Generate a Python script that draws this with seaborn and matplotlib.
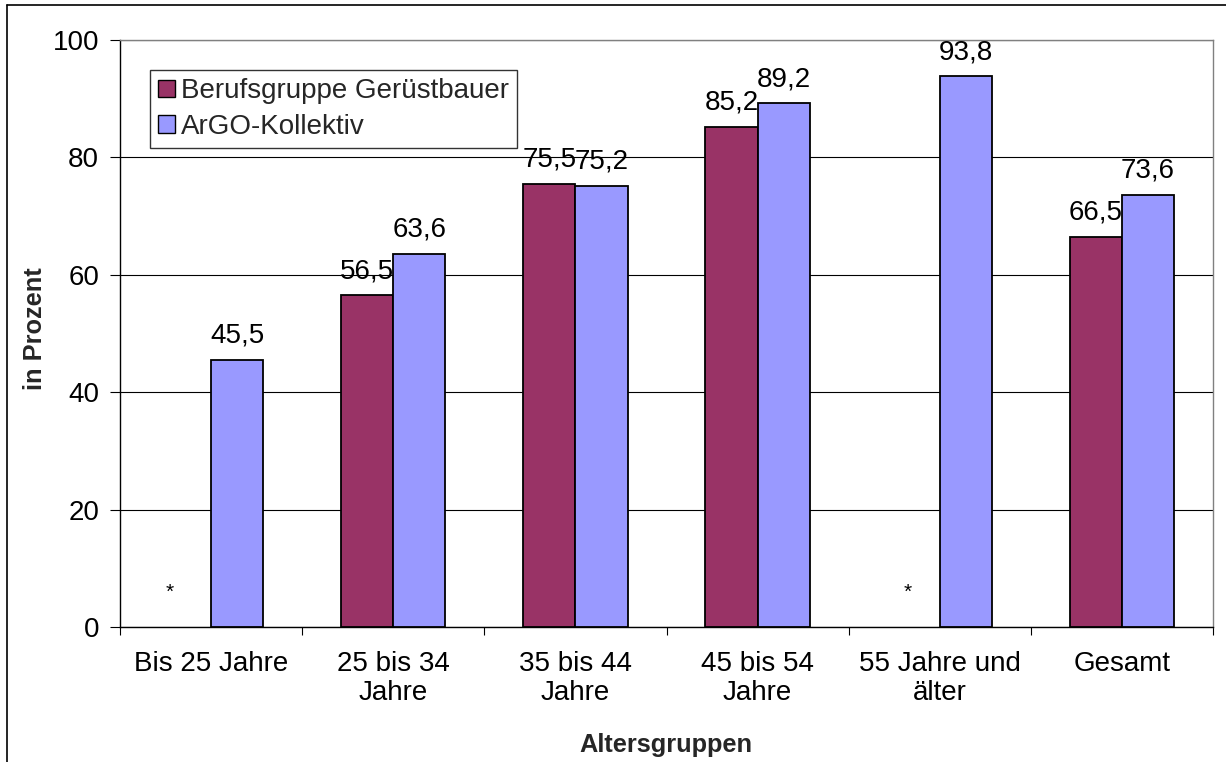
import numpy as np
import pandas as pd
import matplotlib
matplotlib.use("Agg")
import matplotlib.pyplot as plt
from matplotlib.lines import Line2D
from matplotlib.patches import Patch
import seaborn as sns

# Data
categories = ["Bis 25 Jahre", "25 bis 34\nJahre", "35 bis 44\nJahre",
              "45 bis 54\nJahre", "55 Jahre und\nälter", "Gesamt"]
series = ["Berufsgruppe Gerüstbauer", "ArGO-Kollektiv"]
geruestbauer = [np.nan, 56.5, 75.5, 85.2, np.nan, 66.5]
argo = [45.5, 63.6, 75.2, 89.2, 93.8, 73.6]
yticks = [0, 20, 40, 60, 80, 100]
colors = ["#993366", "#9999FF"]

sns.set_theme(style="white")
plt.rcParams["font.family"] = ["Liberation Sans", "DejaVu Sans"]

FS = 20  # regular text size
FSB = 18.3  # bold axis titles

df = pd.DataFrame({
    "Altersgruppe": categories * 2,
    "Serie": [series[0]] * len(categories) + [series[1]] * len(categories),
    "Wert": geruestbauer + argo,
}).dropna()

W, H = 1226, 762
fig = plt.figure(figsize=(W / 100, H / 100), dpi=100)
fig.patch.set_facecolor("white")
ax = fig.add_axes([120 / W, 1 - 627 / H, (1213 - 120) / W, (627 - 40) / H])

sns.barplot(data=df, x="Altersgruppe", y="Wert", hue="Serie",
            order=categories, hue_order=series, palette=colors,
            width=0.572, gap=0, saturation=1, errorbar=None,
            edgecolor="black", linewidth=1.3, legend=False, ax=ax, zorder=3)

ax.set_xlim(-0.5, len(categories) - 0.5)
ax.set_ylim(0, 100)
ax.set_yticks(yticks)
ax.set_yticklabels([str(v) for v in yticks])
ax.yaxis.grid(True, color="black", linewidth=0.8, zorder=0)
ax.set_axisbelow(True)

# Value labels with decimal comma
for cont in ax.containers:
    ax.bar_label(cont, fmt=lambda v: f"{v:.1f}".replace(".", ","),
                 padding=8, fontsize=FS, color="black")

# Missing values marked with an asterisk
for xpos in (-0.225, 4 - 0.176):
    ax.text(xpos, 5.0, "*", ha="center", va="baseline", fontsize=15, color="black")

# Axes frame
for side in ("left", "bottom"):
    ax.spines[side].set_color("black")
    ax.spines[side].set_linewidth(1.0)
for side in ("right", "top"):
    ax.spines[side].set_color("#808080")
    ax.spines[side].set_linewidth(1.0)

ax.tick_params(axis="y", direction="out", length=7, width=0.8, color="black",
               pad=8, labelsize=FS, labelcolor="black", left=True)
ax.tick_params(axis="x", which="major", length=0, pad=17, labelsize=FS,
               labelcolor="black")
ax.set_xticks(np.arange(-0.5, len(categories)), minor=True)
ax.tick_params(axis="x", which="minor", direction="out", length=6, width=0.8,
               color="black", bottom=True)
for lab in ax.get_xticklabels():
    lab.set_linespacing(1.15)

ax.set_xlabel("")
ax.set_ylabel("")
fig.text(35 / W, 1 - 329 / H, "in Prozent", rotation=90, ha="center",
         va="center", fontsize=FSB, fontweight="bold")
fig.text(666 / W, 1 - 745 / H, "Altersgruppen", ha="center", va="center",
         fontsize=FSB, fontweight="bold")

# Legend
handles = [Patch(facecolor=c, edgecolor="black", linewidth=1.0) for c in colors]
leg = ax.legend(handles, series, loc="upper left",
                bbox_to_anchor=((150 - 120) / 1093, (627 - 70) / 587),
                fontsize=FS, frameon=True, fancybox=False, shadow=False,
                handlelength=0.6, handleheight=0.6, handletextpad=0.2,
                labelspacing=0.35, borderpad=0.3, borderaxespad=0)
leg.get_frame().set_edgecolor("black")
leg.get_frame().set_linewidth(1.0)

# Outer chart border
fig.add_artist(Line2D([7 / W, 7 / W], [0, 1 - 5 / H], color="black", linewidth=1.2))
fig.add_artist(Line2D([7 / W, 1], [1 - 5 / H, 1 - 5 / H], color="black", linewidth=1.2))

fig.savefig("out.png", dpi=100)
